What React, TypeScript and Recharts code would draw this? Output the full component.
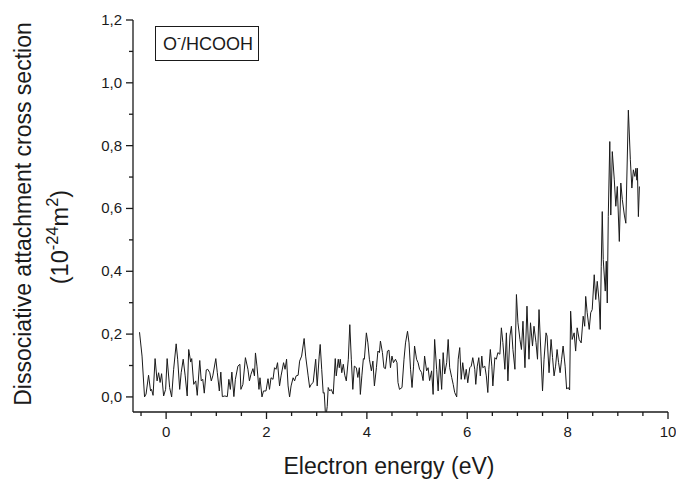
import React from "react";
import { LineChart, Line, XAxis, YAxis } from "recharts";

// electron energy (eV)
const energy = [
  -0.53, -0.48, -0.43, -0.4, -0.35, -0.31, -0.29, -0.26, -0.22, -0.18, -0.15, -0.12, -0.09, -0.05, -0.01,
  0.02, 0.07, 0.11, 0.15, 0.2, 0.23, 0.27, 0.3, 0.34, 0.38, 0.42, 0.45, 0.49, 0.51, 0.55, 0.59, 0.62, 0.67,
  0.7, 0.73, 0.76, 0.8, 0.83, 0.87, 0.9, 0.93, 0.99, 1.02, 1.06, 1.09, 1.12, 1.17, 1.22, 1.25, 1.28, 1.31,
  1.35, 1.38, 1.43, 1.47, 1.49, 1.53, 1.58, 1.63, 1.66, 1.69, 1.73, 1.76, 1.78, 1.81, 1.85, 1.87, 1.91,
  1.94, 1.99, 2.03, 2.06, 2.09, 2.13, 2.16, 2.19, 2.22, 2.26, 2.29, 2.34, 2.37, 2.4, 2.43, 2.46, 2.49,
  2.53, 2.56, 2.59, 2.63, 2.66, 2.7, 2.75, 2.78, 2.83, 2.86, 2.89, 2.93, 2.98, 3.01, 3.05, 3.07, 3.1,
  3.13, 3.15, 3.18, 3.21, 3.23, 3.26, 3.29, 3.33, 3.37, 3.39, 3.43, 3.45, 3.47, 3.5, 3.53, 3.56, 3.59,
  3.63, 3.66, 3.69, 3.72, 3.75, 3.79, 3.82, 3.85, 3.87, 3.9, 3.93, 3.95, 3.99, 4.02, 4.05, 4.09, 4.12,
  4.15, 4.19, 4.22, 4.25, 4.27, 4.31, 4.34, 4.37, 4.41, 4.44, 4.47, 4.5, 4.53, 4.57, 4.6, 4.62, 4.65,
  4.7, 4.74, 4.77, 4.81, 4.84, 4.87, 4.9, 4.93, 4.95, 4.99, 5.02, 5.05, 5.09, 5.12, 5.15, 5.19, 5.22,
  5.25, 5.29, 5.32, 5.35, 5.39, 5.42, 5.45, 5.49, 5.52, 5.55, 5.59, 5.62, 5.65, 5.69, 5.72, 5.75, 5.79,
  5.82, 5.85, 5.88, 5.91, 5.95, 5.98, 6.01, 6.05, 6.08, 6.11, 6.15, 6.17, 6.2, 6.23, 6.26, 6.29, 6.31,
  6.35, 6.38, 6.41, 6.43, 6.46, 6.49, 6.51, 6.55, 6.58, 6.61, 6.65, 6.68, 6.71, 6.75, 6.78, 6.81, 6.85,
  6.88, 6.91, 6.95, 6.98, 7.01, 7.05, 7.08, 7.11, 7.15, 7.19, 7.23, 7.26, 7.3, 7.33, 7.37, 7.4, 7.43,
  7.47, 7.5, 7.53, 7.57, 7.59, 7.63, 7.67, 7.7, 7.73, 7.76, 7.79, 7.82, 7.85, 7.88, 7.91, 7.95, 7.98,
  8.01, 8.04, 8.06, 8.09, 8.13, 8.16, 8.19, 8.23, 8.27, 8.31, 8.34, 8.36, 8.39, 8.43, 8.46, 8.49, 8.53,
  8.56, 8.59, 8.63, 8.65, 8.67, 8.69, 8.71, 8.75, 8.77, 8.79, 8.81, 8.84, 8.86, 8.89, 8.93, 8.96, 8.99,
  9.03, 9.06, 9.09, 9.13, 9.16, 9.21, 9.25, 9.28, 9.31, 9.34, 9.36, 9.38, 9.39, 9.41, 9.43,
];

// dissociative attachment cross section (10^-24 m^2)
const crossSection = [
  0.206, 0.13, 0.0, 0.009, 0.069, 0.019, 0.024, 0.005, 0.122, 0.051, 0.077, 0.046, 0.074, 0.003, 0.024,
  0.122, 0.03, 0.0, 0.088, 0.169, 0.12, 0.024, 0.077, 0.12, 0.067, 0.003, 0.151, 0.111, 0.122, 0.04, 0.051, 0.005, 0.116,
  0.051, 0.056, 0.012, 0.086, 0.088, 0.077, 0.051, 0.067, 0.122, 0.077, 0.019, 0.079, 0.001, 0.003, 0.001, 0.056, 0.024, 0.079,
  0.001, 0.056, 0.098, 0.104, 0.024, 0.04, 0.125, 0.088, 0.051, 0.072, 0.09, 0.067, 0.14, 0.098, 0.024, 0.061, 0.0,
  0.019, 0.019, 0.058, 0.024, 0.061, 0.056, 0.093, 0.088, 0.109, 0.035, 0.067, 0.109, 0.088, 0.12, 0.035, 0.0, 0.035,
  0.061, 0.051, 0.067, 0.069, 0.114, 0.13, 0.186, 0.13, 0.067, 0.03, 0.04, 0.046, 0.12, 0.035, 0.13, 0.167, 0.088,
  0.012, 0.014, -0.07, -0.03, 0.03, 0.019, 0.024, 0.009, 0.122, 0.067, 0.12, 0.093, 0.12, 0.077, 0.104, 0.069, 0.051,
  0.12, 0.23, 0.12, 0.024, 0.098, 0.093, 0.062, 0.093, 0.008, 0.067, 0.122, 0.12, 0.204, 0.172, 0.12, 0.083, 0.114,
  0.035, 0.093, 0.146, 0.141, 0.178, 0.141, 0.093, 0.09, 0.146, 0.149, 0.093, 0.13, 0.109, 0.12, 0.109, 0.046, 0.024,
  0.03, 0.12, 0.172, 0.209, 0.172, 0.088, 0.03, 0.098, 0.162, 0.12, 0.109, 0.088, 0.078, 0.052, 0.13, 0.083, 0.093,
  0.052, 0.083, 0.008, 0.183, 0.088, 0.019, 0.12, 0.024, 0.141, 0.073, 0.109, 0.183, 0.093, 0.062, 0.04, 0.014, 0.0,
  0.12, 0.157, 0.056, 0.109, 0.056, 0.088, 0.045, 0.093, 0.098, 0.125, 0.088, 0.04, 0.098, 0.125, 0.067, 0.13, 0.093,
  0.098, 0.067, 0.014, 0.088, 0.151, 0.098, 0.035, 0.125, 0.12, 0.141, 0.136, 0.22, 0.173, 0.088, 0.204, 0.051, 0.194,
  0.225, 0.151, 0.088, 0.326, 0.236, 0.183, 0.151, 0.241, 0.093, 0.289, 0.12, 0.236, 0.162, 0.225, 0.173, 0.12, 0.278,
  0.13, 0.019, 0.12, 0.204, 0.194, 0.077, 0.183, 0.125, 0.067, 0.098, 0.151, 0.109, 0.077, 0.12, 0.162, 0.098, 0.025,
  0.03, 0.022, 0.273, 0.183, 0.204, 0.146, 0.22, 0.183, 0.172, 0.257, 0.225, 0.32, 0.268, 0.215, 0.268, 0.278, 0.389,
  0.31, 0.368, 0.299, 0.215, 0.416, 0.59, 0.437, 0.337, 0.432, 0.299, 0.574, 0.813, 0.579, 0.781, 0.691, 0.607, 0.67,
  0.495, 0.681, 0.628, 0.579, 0.553, 0.913, 0.755, 0.665, 0.723, 0.702, 0.728, 0.69, 0.728, 0.574, 0.67,
];

const xTicks = [-0.5, 0, 0.5, 1, 1.5, 2, 2.5, 3, 3.5, 4, 4.5, 5, 5.5, 6, 6.5, 7, 7.5, 8, 8.5, 9, 9.5, 10];
const yTicks = [0, 0.1, 0.2, 0.3, 0.4, 0.5, 0.6, 0.7, 0.8, 0.9, 1.0, 1.1, 1.2];

const data = energy.map((e, i) => ({ e, cs: crossSection[i] }));

const FONT = "'Liberation Sans', Arial, sans-serif";
const INK = "#1a1a1a";

const XTick = (props: any) => {
  const { x, y, payload } = props;
  const v = payload.value;
  const major = Math.abs(v - Math.round(v / 2) * 2) < 1e-6;
  return (
    <g>
      <line x1={x} y1={y} x2={x} y2={y + (major ? 7 : 4)} stroke={INK} strokeWidth={1.3} />
      {major && (
        <text x={x} y={y + 25} textAnchor="middle" fontSize={15} fontFamily={FONT} fill={INK}>
          {v}
        </text>
      )}
    </g>
  );
};

const YTick = (props: any) => {
  const { x, y, payload } = props;
  const v = payload.value;
  const major = Math.round(v * 10) % 2 === 0;
  return (
    <g>
      <line x1={x} y1={y} x2={x - (major ? 7 : 4)} y2={y} stroke={INK} strokeWidth={1.3} />
      {major && (
        <text x={x - 11} y={y + 5} textAnchor="end" fontSize={15} fontFamily={FONT} fill={INK}>
          {v.toFixed(1).replace(".", ",")}
        </text>
      )}
    </g>
  );
};

export default function App() {
  return (
    <div style={{ position: "absolute", left: 0, top: 0, width: 676, height: 480, background: "#fff" }}>
      <LineChart width={676} height={480} data={data} margin={{ top: 20, right: 8, left: 73, bottom: 38 }}>
        <XAxis
          type="number"
          dataKey="e"
          domain={[-0.66, 10]}
          ticks={xTicks}
          interval={0}
          allowDataOverflow
          tickSize={0}
          tickMargin={0}
          tickLine={false}
          tick={<XTick />}
          axisLine={{ stroke: INK, strokeWidth: 1.3 }}
          height={30}
        />
        <YAxis
          type="number"
          domain={[-0.048, 1.2]}
          ticks={yTicks}
          interval={0}
          allowDataOverflow
          tickSize={0}
          tickMargin={0}
          tickLine={false}
          tick={<YTick />}
          axisLine={{ stroke: INK, strokeWidth: 1.3 }}
          width={60}
        />
        <Line
          type="linear"
          dataKey="cs"
          stroke={INK}
          strokeWidth={1}
          dot={false}
          isAnimationActive={false}
        />
      </LineChart>
      <svg
        width={676}
        height={480}
        style={{ position: "absolute", left: 0, top: 0, pointerEvents: "none" }}
        fontFamily={FONT}
        fill={INK}
      >
        <text x={389} y={474} textAnchor="middle" fontSize={23}>
          Electron energy (eV)
        </text>
        <text transform="translate(31,214) rotate(-90)" textAnchor="middle" fontSize={23}>
          Dissociative attachment cross section
        </text>
        <text transform="translate(68,237) rotate(-90)" textAnchor="middle" fontSize={23.5}>
          (10
          <tspan fontSize={16.5} dy={-10}>-24</tspan>
          <tspan dy={10}>m</tspan>
          <tspan fontSize={16.5} dy={-10}>2</tspan>
          <tspan dy={10}>)</tspan>
        </text>
        <rect x={155.5} y={26.5} width={103} height={34} fill="#fff" stroke={INK} strokeWidth={1} />
        <text x={163} y={50} fontSize={18}>
          O<tspan fontSize={12} dy={-8}>-</tspan>
          <tspan dy={8}>/HCOOH</tspan>
        </text>
      </svg>
    </div>
  );
}
